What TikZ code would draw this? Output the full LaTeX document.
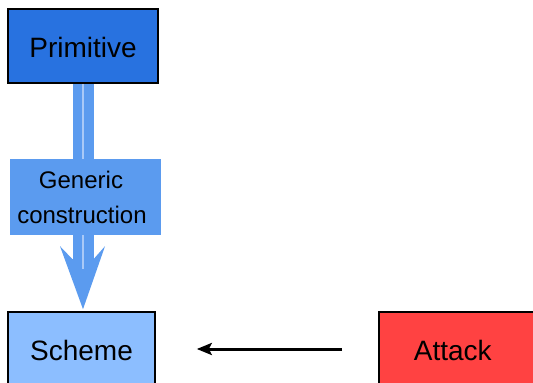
\documentclass[tikz,border=0pt]{standalone}
\usepackage{fontspec}
\setmainfont{Liberation Sans}
\usetikzlibrary{arrows.meta,calc}
\definecolor{primblue}{HTML}{2872E0}
\definecolor{shaftblue}{HTML}{5B9BEF}
\definecolor{gapblue}{HTML}{A9C9F7}
\definecolor{schemeblue}{HTML}{8CBEFF}
\definecolor{attackred}{HTML}{FF4242}
\begin{document}
\begin{tikzpicture}[x=1pt,y=-1pt,
  box/.style={draw=black,line width=1.6pt,minimum width=150pt,minimum height=74pt,
    inner sep=0pt,text height=22pt,text depth=0pt,font=\fontsize{28}{34}\selectfont},
  shaft/.style={fill=shaftblue},
  gapline/.style={draw=gapblue,line width=1.2pt},
  labelbox/.style={fill=shaftblue,minimum width=151pt,minimum height=76pt,inner sep=0pt,
    align=center,font=\fontsize{24}{35}\selectfont},
  attackarrow/.style={draw=black,line width=3pt,-{Stealth[length=15pt,width=12pt,inset=3pt]}}
]
\useasboundingbox (0,0) rectangle (533,383);
\node[box,fill=primblue] (prim) at (83,46) {Primitive};
\node[box,fill=schemeblue,minimum width=147pt] (scheme) at (81.5,349) {Scheme};
\node[box,fill=attackred,minimum width=170pt,anchor=west] (attack) at (378,349) {\hspace*{-22pt}Attack};
% thick generic-construction arrow
\coordinate (s) at (prim.south);
\coordinate (t) at ($(prim.south |- scheme.north)+(0,-2)$);
\fill[shaft] ($(s)+(-10.5,0)$) rectangle ($(t)+(10.5,-48)$);
\fill[shaft] ($(t)+(-23,-63)$) -- ($(t)+(-10.5,-50)$) -- ($(t)+(10.5,-50)$) -- ($(t)+(22,-63)$) -- (t) -- cycle;
\draw[gapline] (s) -- ($(t)+(0,-40)$);
\node[labelbox] (gc) at (85.5,197) {\hspace*{-9pt}Generic\\\hspace*{-7pt}construction};
% attack arrow
\draw[attackarrow,shorten <=36pt,shorten >=41pt] (attack.west) -- (scheme.east);
\end{tikzpicture}
\end{document}
